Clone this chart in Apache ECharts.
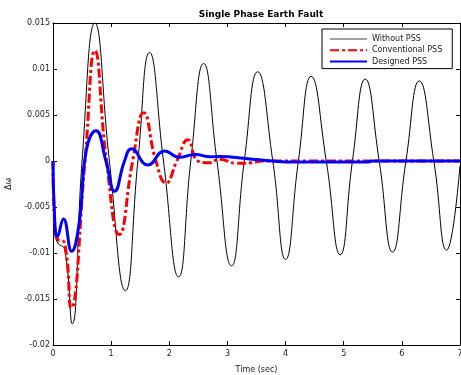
<!DOCTYPE html>
<html>
<head>
<meta charset="utf-8">
<script src="https://cdn.jsdelivr.net/npm/echarts@6/dist/echarts.min.js"></script>
<style>
  html, body { margin: 0; padding: 0; background: #fff; }
  #main { width: 461px; height: 375px; }
</style>
</head>
<body>
<div id="main"></div>
<script>
// [time (sec), delta omega]
var withoutPss = [
  [0, 0], [0.03, -0.0075], [0.08, -0.0089], [0.2, -0.0096], [0.33, -0.0177],
  [0.5, 0], [0.72, 0.015], [0.97, 0], [1.245, -0.0141], [1.46, 0],
  [1.66, 0.0118], [1.9, 0], [2.16, -0.0126], [2.37, 0], [2.59, 0.0106],
  [2.82, 0], [3.07, -0.0114], [3.29, 0], [3.52, 0.0097], [3.78, 0],
  [4.0, -0.0107], [4.22, 0], [4.44, 0.0092], [4.7, 0], [4.94, -0.0102],
  [5.15, 0], [5.37, 0.0089], [5.61, 0], [5.84, -0.0099], [6.07, 0],
  [6.3, 0.0087], [6.55, 0], [6.77, -0.0097], [7, -0.0005]
];
var conventionalPss = [
  [0, 0], [0.03, -0.007], [0.08, -0.0085], [0.2, -0.0089], [0.31, -0.016],
  [0.55, 0], [0.72, 0.012], [0.92, 0], [1.14, -0.008], [1.37, 0],
  [1.56, 0.00525], [1.77, 0], [1.945, -0.0024], [2.13, 0], [2.32, 0.0023],
  [2.49, 0], [2.69, -0.0002], [2.86, 0.0002], [3.15, -0.00025], [3.4, -0.0002],
  [3.6, 0], [7, 0]
];
var designedPss = [
  [0, 0], [0.02, -0.005], [0.08, -0.0082], [0.18, -0.0063], [0.32, -0.0098],
  [0.455, -0.0065], [0.57, 0.0011], [0.74, 0.0033], [0.91, 0], [1.06, -0.0033],
  [1.23, 0], [1.35, 0.00134], [1.63, -0.00043], [1.92, 0.0011], [2.17, 0.0004],
  [2.45, 0.00072], [2.7, 0.00045], [2.86, 0.0005], [3.1, 0.0004], [3.43, 0.00018],
  [3.78, 0], [4.0, -0.0001], [5.4, -0.0001], [5.5, 0], [7, 0]
];
var seriesNames = ['Without PSS', 'Conventional PSS', 'Designed PSS'];

var chartDom = document.getElementById('main');
var myChart = echarts.init(chartDom, null, { renderer: 'canvas' });
var fontFamily = '"DejaVu Sans", Verdana, sans-serif';

var axisBase = {
  axisLine: { show: true, onZero: false, lineStyle: { color: '#000', width: 1 } },
  axisTick: { show: true, inside: true, length: 4, lineStyle: { color: '#000' } },
  splitLine: { show: false }
};

var option = {
  backgroundColor: '#fff',
  animation: false,
  title: {
    text: 'Single Phase Earth Fault',
    left: 256,
    textAlign: 'center',
    top: 5,
    textStyle: { fontFamily: fontFamily, fontSize: 9, fontWeight: 'bold', color: '#000' }
  },
  grid: { left: 53, right: 1, top: 23, bottom: 30, outerBoundsMode: 'none' },
  legend: {
    orient: 'vertical',
    left: 322,
    top: 29,
    padding: [6, 10, 3, 7],
    itemGap: 3.3,
    itemWidth: 37,
    itemHeight: 10,
    backgroundColor: '#fff',
    borderColor: '#000',
    borderWidth: 1,
    borderRadius: 0,
    itemStyle: { opacity: 0 },
    textStyle: { fontFamily: fontFamily, fontSize: 8, color: '#222' },
    data: [
      { name: seriesNames[0], lineStyle: { width: 1, color: '#444' } },
      { name: seriesNames[1] },
      { name: seriesNames[2] }
    ]
  },
  xAxis: [
    Object.assign({}, axisBase, {
      type: 'value', min: 0, max: 7, interval: 1, position: 'bottom',
      name: 'Time (sec)', nameLocation: 'middle', nameGap: 21,
      nameTextStyle: { fontFamily: fontFamily, fontSize: 8, color: '#222' },
      axisLabel: { fontFamily: fontFamily, fontSize: 8, color: '#222', margin: 5 }
    }),
    Object.assign({}, axisBase, {
      type: 'value', min: 0, max: 7, interval: 1, position: 'top',
      axisLabel: { show: false }
    })
  ],
  yAxis: [
    Object.assign({}, axisBase, {
      type: 'value', min: -0.02, max: 0.015, interval: 0.005, position: 'left',
      name: 'Δω', nameLocation: 'middle', nameGap: 40, nameRotate: 90,
      nameTextStyle: { fontFamily: fontFamily, fontSize: 8, color: '#222' },
      axisLabel: { fontFamily: fontFamily, fontSize: 8, color: '#222', margin: 3 }
    }),
    Object.assign({}, axisBase, {
      type: 'value', min: -0.02, max: 0.015, interval: 0.005, position: 'right',
      axisLabel: { show: false }
    })
  ],
  series: [
    {
      name: seriesNames[0], type: 'line', data: withoutPss, smooth: 0.5,
      symbol: 'none', color: '#000',
      lineStyle: { color: '#000', width: 1 }, z: 1
    },
    {
      name: seriesNames[1], type: 'line', data: conventionalPss, smooth: 0.5,
      symbol: 'none', color: '#ff0000',
      lineStyle: { color: '#ff0000', width: 3, type: [9, 3, 3, 3] }, z: 2
    },
    {
      name: seriesNames[2], type: 'line', data: designedPss, smooth: 0.5,
      symbol: 'none', color: '#0000ff',
      lineStyle: { color: '#0000ff', width: 3 }, z: 3
    }
  ]
};

myChart.setOption(option);
window.onresize = function () { myChart.resize(); };
</script>
</body>
</html>
